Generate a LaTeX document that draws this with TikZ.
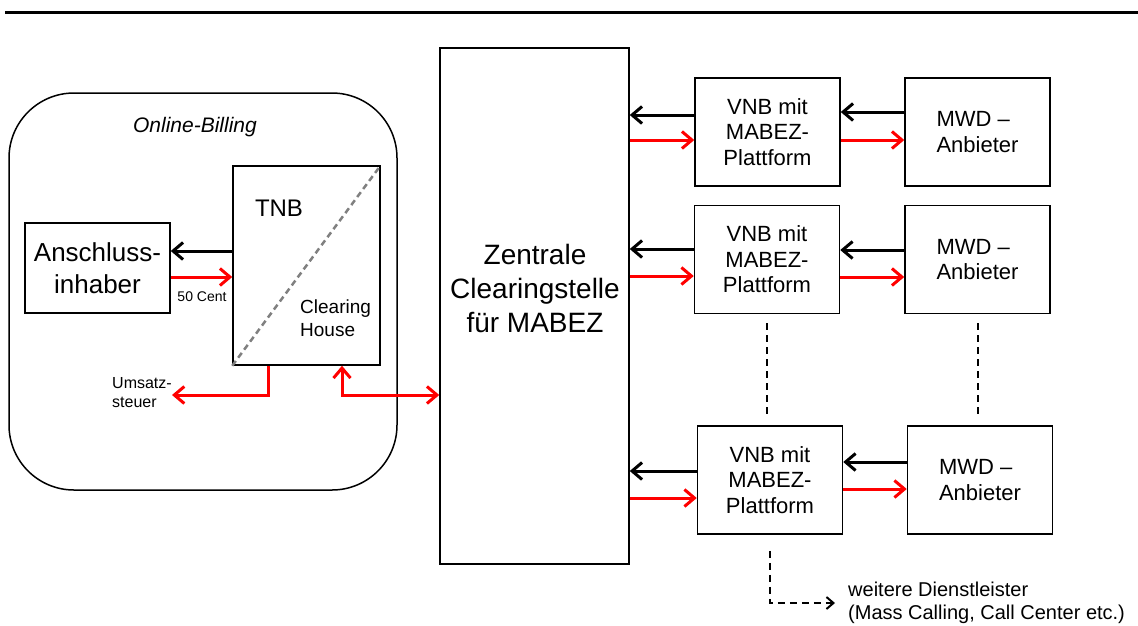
\documentclass[tikz,border=0pt]{standalone}
\usepackage{fontspec}
\setmainfont{Liberation Sans}
\usetikzlibrary{arrows.meta}

\begin{document}
\begin{tikzpicture}[x=1pt,y=-1pt,
    >={Straight Barb[length=10pt,width=17pt]},
    box/.style={draw,line width=1.5pt,inner sep=0pt,minimum width=145pt,minimum height=108pt,align=center},
    vtxt/.style={font=\fontsize{22}{25.5}\selectfont},
    blk/.style={line width=3pt,->},
    rd/.style={blk,red},
    dsh/.style={line width=2pt,dash pattern=on 7pt off 5pt}]

  \useasboundingbox (0,0) rectangle (1138,625);
  \draw [line width=3pt] (5,12) -- (1138,12);

  \node [draw,line width=1.5pt,rounded corners=65pt,minimum width=388pt,minimum height=397pt] (ob) at (203,291.5) {};
  \node [font=\itshape\fontsize{21}{25}\selectfont] (obt) at (195,127) {Online-Billing};
  \node [box,minimum height=90pt,font=\fontsize{26}{32}\selectfont] (a) at (97.5,268) {Anschluss-\\inhaber};
  \node [box,minimum width=147pt,minimum height=199pt] (t) at (306.5,265.5) {};
  \draw [gray,line width=2.5pt,dash pattern=on 6pt off 4pt] (t.south west) -- (t.north east);
  \node [font=\fontsize{24}{28}\selectfont] (tnb) at (279,208) {TNB};
  \node [anchor=west,inner sep=0pt,align=left,font=\fontsize{19}{22.5}\selectfont] (ch) at (300,318) {Clearing\\House};
  \node [font=\fontsize{14}{16}\selectfont] (ct) at (202,297) {50 Cent};
  \node [anchor=west,inner sep=0pt,align=left,font=\fontsize{16}{19}\selectfont] (us) at (112,392.5) {Umsatz-\\steuer};
  \coordinate (u) at (172,395);

  \node [box,minimum width=189pt,minimum height=516pt] (z) at (534.5,306) {};
  \node [align=center,font=\fontsize{28}{34}\selectfont] (zt) at (535,288) {Zentrale\\Clearingstelle\\für MABEZ};

  \node [box,vtxt] (v1) at (767.5,132) {VNB mit\\MABEZ-\\Plattform};
  \node [box,vtxt] (v2) at (767,259.5) {VNB mit\\MABEZ-\\Plattform};
  \node [box,vtxt] (v3) at (770,480) {VNB mit\\MABEZ-\\Plattform};
  \node [box,vtxt,align=left] (m1) at (977.5,132) {MWD –\\Anbieter};
  \node [box,vtxt,align=left] (m2) at (977.5,259.5) {MWD –\\Anbieter};
  \node [box,vtxt,align=left] (m3) at (980,480) {MWD –\\Anbieter};
  \node [anchor=west,inner sep=0pt,align=left,font=\fontsize{20}{22.5}\selectfont] (dl) at (848,603) {weitere Dienstleister\\(Mass Calling, Call Center etc.)};

  \draw [blk] ([yshift=17pt]a.east -| t.west) -- ([yshift=17pt]a.east);
  \draw [rd] ([yshift=-9pt]a.east) -- ([yshift=-9pt]a.east -| t.west);
  \draw [rd] ([xshift=-38.5pt]t.south) |- (u);
  \draw [rd,<->] ([xshift=35.5pt]t.south) |- ([yshift=-89pt]z.west);

  \draw [blk] ([yshift=17pt]v1.west) -- ([yshift=17pt]v1.west -| z.east);
  \draw [rd] ([yshift=-8pt]v1.west -| z.east) -- ([yshift=-8pt]v1.west);
  \draw [blk] ([yshift=20pt]m1.west) -- ([yshift=20pt]m1.west -| v1.east);
  \draw [rd] ([yshift=-8pt]m1.west -| v1.east) -- ([yshift=-8pt]m1.west);

  \draw [blk] ([yshift=10.5pt]v2.west) -- ([yshift=10.5pt]v2.west -| z.east);
  \draw [rd] ([yshift=-16.5pt]v2.west -| z.east) -- ([yshift=-16.5pt]v2.west);
  \draw [blk] ([yshift=9.5pt]m2.west) -- ([yshift=9.5pt]m2.west -| v2.east);
  \draw [rd] ([yshift=-17.5pt]m2.west -| v2.east) -- ([yshift=-17.5pt]m2.west);

  \draw [blk] ([yshift=9pt]v3.west) -- ([yshift=9pt]v3.west -| z.east);
  \draw [rd] ([yshift=-18pt]v3.west -| z.east) -- ([yshift=-18pt]v3.west);
  \draw [blk] ([yshift=18pt]m3.west) -- ([yshift=18pt]m3.west -| v3.east);
  \draw [rd] ([yshift=-9pt]m3.west -| v3.east) -- ([yshift=-9pt]m3.west);

  \draw [dsh,shorten <=9pt,shorten >=8pt] (v2.south) -- (v2.south |- v3.north);
  \draw [dsh,shorten <=9pt,shorten >=8pt] (m2.south) -- (m2.south |- m3.north);
  \draw [dsh,-{Straight Barb[length=7pt,width=12pt]},shorten <=16pt,shorten >=13pt] (v3.south) |- (dl.west);

\end{tikzpicture}
\end{document}
